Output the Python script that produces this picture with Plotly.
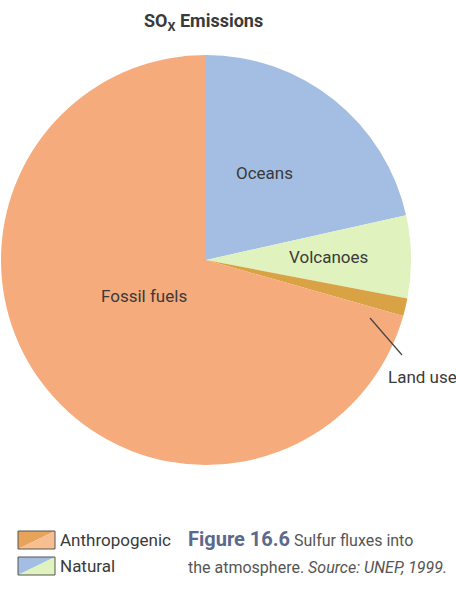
import plotly.graph_objects as go

# Data
sources = ["Oceans", "Volcanoes", "Land use", "Fossil fuels"]
shares = [21.5, 6.5, 1.4, 70.6]
slice_colors = ["#A3BEE2", "#E0F2BE", "#D9A244", "#F5AB7C"]
legend_labels = ["Anthropogenic", "Natural"]

W, H = 456, 592
FONT = "Roboto, Liberation Sans, sans-serif"
TXT = "#3a3a3a"

def px(x):
    return x / W

def py(y):
    return 1 - y / H

fig = go.Figure()
fig.add_trace(go.Pie(
    labels=sources,
    values=shares,
    sort=False,
    direction="clockwise",
    rotation=0,
    marker=dict(colors=slice_colors, line=dict(width=0)),
    textinfo="none",
    hoverinfo="label+percent",
    showlegend=False,
    domain=dict(x=[px(1), px(411)], y=[py(470), py(50)]),
))

annotations = []
def note(x, y, text, size, color=TXT, anchor="center"):
    annotations.append(dict(x=px(x), y=py(y), xref="paper", yref="paper",
                            xanchor=anchor, yanchor="middle",
                            text=text, showarrow=False,
                            font=dict(family=FONT, size=size, color=color)))

# Title
note(203, 22, "<b>SO<sub>X</sub> Emissions</b>", 18)
# Slice labels
note(264, 173, "Oceans", 17)
note(328, 257, "Volcanoes", 17)
note(144, 296, "Fossil fuels", 17)
note(386, 377, "Land use", 17, anchor="left")

# Legend text
note(58, 540, legend_labels[0], 17, anchor="left")
note(58, 566, legend_labels[1], 17, anchor="left")
# Caption
note(186, 539,
     "<b><span style='color:#5b6a8c;font-size:20px'>Figure 16.6</span></b> Sulfur fluxes into",
     16, color="#555555", anchor="left")
note(186, 567, "the atmosphere. <i>Source: UNEP, 1999.</i>", 16,
     color="#555555", anchor="left")

shapes = []
# leader line for Land use
shapes.append(dict(type="line", xref="paper", yref="paper",
                   x0=px(370), y0=py(318), x1=px(402), y1=py(355),
                   line=dict(color="#444444", width=1.2)))

# legend swatches: two triangles each
def swatch(x0, y0, x1, y1, c1, c2):
    X0, X1 = px(x0), px(x1)
    Y0, Y1 = py(y0), py(y1)
    out = []
    out.append(dict(type="path", xref="paper", yref="paper",
                    path=f"M {X0} {Y0} L {X1} {Y0} L {X0} {Y1} Z",
                    fillcolor=c1, line=dict(width=0)))
    out.append(dict(type="path", xref="paper", yref="paper",
                    path=f"M {X1} {Y0} L {X1} {Y1} L {X0} {Y1} Z",
                    fillcolor=c2, line=dict(width=0)))
    out.append(dict(type="rect", xref="paper", yref="paper",
                    x0=X0, y0=Y0, x1=X1, y1=Y1,
                    line=dict(color="#555555", width=1), fillcolor="rgba(0,0,0,0)"))
    return out

shapes += swatch(18, 531, 55, 549, "#E8A35A", "#F7BF90")
shapes += swatch(18, 557, 55, 575, "#A3BEE2", "#E0F2BE")

fig.update_layout(
    width=W, height=H,
    margin=dict(l=0, r=0, t=0, b=0),
    paper_bgcolor="white",
    plot_bgcolor="white",
    annotations=annotations,
    shapes=shapes,
)

fig.write_html("out.html")
